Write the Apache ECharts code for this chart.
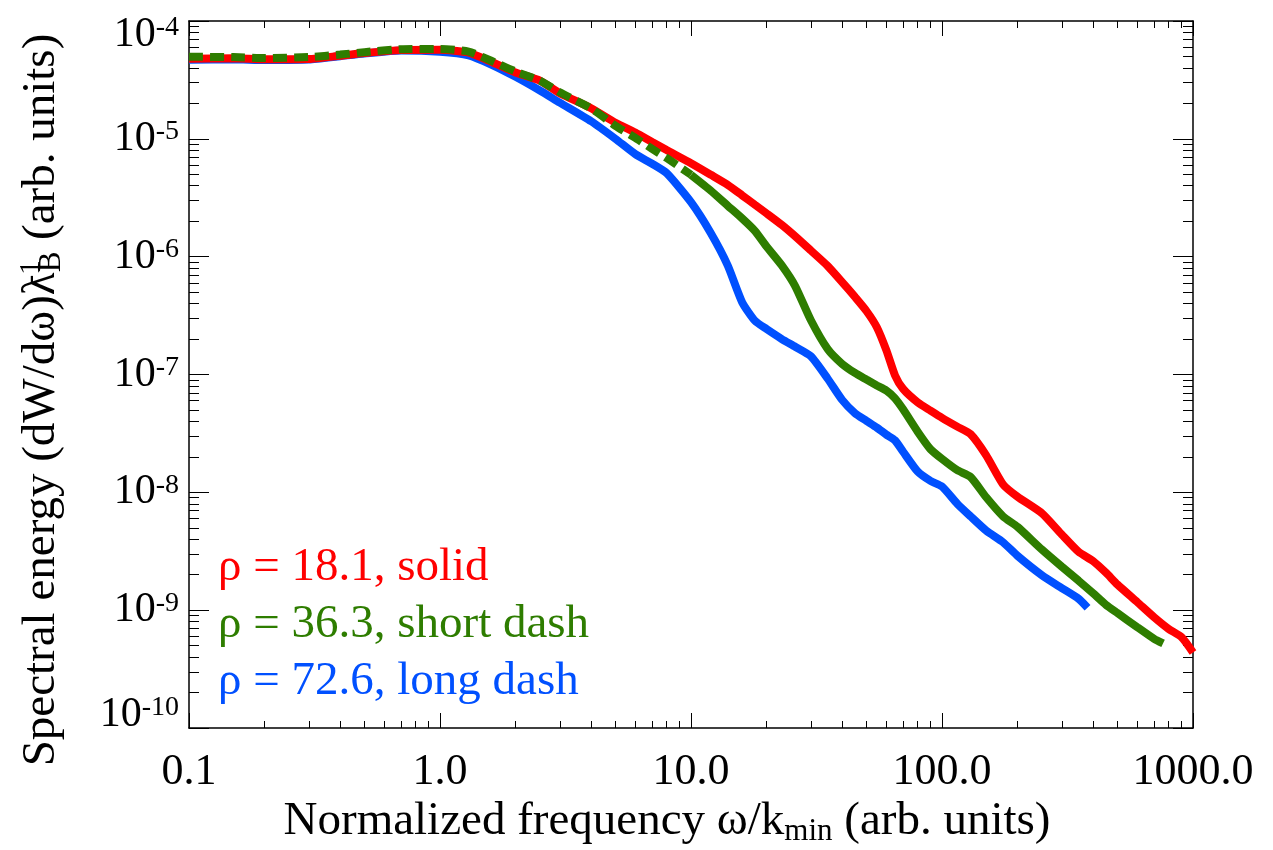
<!DOCTYPE html>
<html>
<head>
<meta charset="utf-8">
<script src="https://cdn.jsdelivr.net/npm/echarts@6/dist/echarts.min.js"></script>
<style>
html,body{margin:0;padding:0;background:#fff;}
#chart{width:1273px;height:850px;}
</style>
</head>
<body>
<div id="chart"></div>
<script>
// ---------------- data ----------------
const freqRed = [0.1,0.15,0.2,0.3,0.4,0.5,0.7,1,1.3,1.6,2,2.5,3,4,5,6,7,8,10,12,14,16,18,20,23,26,30,35,40,45,50,55,60,65,70,80,90,100,115,130,150,175,200,250,300,350,400,450,500,600,700,800,900,1000];
const energyRed = [4.78e-5,4.83e-5,4.73e-5,4.75e-5,5.07e-5,5.34e-5,5.66e-5,5.69e-5,5.39e-5,4.51e-5,3.66e-5,3.12e-5,2.44e-5,1.82e-5,1.37e-5,1.13e-5,9.40e-6,8.03e-6,6.21e-6,4.95e-6,4.07e-6,3.31e-6,2.75e-6,2.33e-6,1.86e-6,1.49e-6,1.13e-6,8.36e-7,6.09e-7,4.55e-7,3.46e-7,2.52e-7,1.61e-7,9.81e-8,7.54e-8,5.80e-8,4.94e-8,4.29e-8,3.61e-8,3.12e-8,2.06e-8,1.17e-8,9.18e-9,6.65e-9,4.39e-9,3.13e-9,2.61e-9,2.08e-9,1.65e-9,1.17e-9,8.71e-10,6.93e-10,5.90e-10,4.38e-10];

const freqGreen = [0.1,0.15,0.2,0.3,0.4,0.5,0.7,1,1.3,1.6,2,2.5,3,4,5,6,7,8,10,12,14,16,18,20,23,26,30,35,40,45,50,55,60,65,70,80,90,100,115,130,150,175,200,250,300,350,400,450,500,600,700,760];
const energyGreen = [4.97e-5,4.94e-5,4.85e-5,4.94e-5,5.19e-5,5.44e-5,5.77e-5,5.80e-5,5.50e-5,4.60e-5,3.73e-5,3.12e-5,2.48e-5,1.81e-5,1.29e-5,1.02e-5,8.22e-6,6.87e-6,4.95e-6,3.63e-6,2.71e-6,2.11e-6,1.65e-6,1.22e-6,8.43e-7,5.63e-7,2.90e-7,1.65e-7,1.23e-7,1.03e-7,9.06e-8,8.08e-8,7.31e-8,6.27e-8,5.06e-8,3.27e-8,2.32e-8,1.92e-8,1.54e-8,1.35e-8,9.07e-9,6.26e-9,5.09e-9,3.27e-9,2.34e-9,1.78e-9,1.39e-9,1.11e-9,9.45e-10,7.17e-10,5.71e-10,5.22e-10];

const freqBlue = [0.1,0.15,0.2,0.3,0.4,0.5,0.7,1,1.3,1.6,2,2.5,3,4,5,6,7,8,10,12,14,16,18,20,23,26,30,35,40,45,50,55,60,65,70,80,90,100,115,130,150,175,200,250,300,350,380];
const energyBlue = [4.69e-5,4.73e-5,4.67e-5,4.71e-5,5.03e-5,5.30e-5,5.62e-5,5.48e-5,5.11e-5,4.27e-5,3.36e-5,2.57e-5,2.03e-5,1.41e-5,1.00e-5,7.41e-6,6.14e-6,5.11e-6,2.90e-6,1.58e-6,8.44e-7,4.09e-7,2.85e-7,2.43e-7,2.00e-7,1.72e-7,1.43e-7,9.25e-8,6.09e-8,4.69e-8,4.04e-8,3.54e-8,3.09e-8,2.76e-8,2.21e-8,1.50e-8,1.25e-8,1.12e-8,8.01e-9,6.25e-9,4.73e-9,3.77e-9,2.89e-9,1.98e-9,1.54e-9,1.25e-9,1.05e-9];

const greenDashEnd = 10; // short-dash pattern visible only at low frequency

const xMajorTicks = [0.1, 1, 10, 100, 1000];
const yMajorExponents = [-10, -9, -8, -7, -6, -5, -4];
const legendLabels = ['ρ = 18.1, solid', 'ρ = 36.3, short dash', 'ρ = 72.6, long dash'];
const colors = ['#FF0000', '#2E7D00', '#0050FF'];

// ---------------- helpers ----------------
const FONT = '"Liberation Serif", "Times New Roman", serif';
const pairs = (xs, ys) => xs.map((x, i) => [x, ys[i]]);
const yMajorTicks = yMajorExponents.map(e => Math.pow(10, e));
function minorTicks(exps) {
  const out = [];
  exps.forEach(e => { for (let k = 2; k <= 9; k++) out.push(k * Math.pow(10, e)); });
  return out;
}
const xMinorTicks = minorTicks([-1, 0, 1, 2]);
const yMinorTicks = minorTicks([-10, -9, -8, -7, -6, -5]);

const greenAll = pairs(freqGreen, energyGreen);
const greenDash = greenAll.filter(p => p[0] <= greenDashEnd);
const greenSolid = greenAll.filter(p => p[0] >= greenDashEnd);

const axisBlack = { show: true, lineStyle: { color: '#000', width: 1.5 } };

function xAxisDef(pos, ticks, len, showLine, showLabel) {
  return {
    type: 'log', logBase: 10, min: 0.1, max: 1000, position: pos,
    axisLine: showLine ? axisBlack : { show: false },
    axisTick: { show: true, inside: true, length: len, customValues: ticks, lineStyle: { color: '#000', width: 1 } },
    axisLabel: showLabel ? {
      show: true, customValues: xMajorTicks, margin: 22, fontSize: 44, fontFamily: FONT, color: '#000',
      formatter: v => Number(v).toFixed(1)
    } : { show: false },
    splitLine: { show: false }
  };
}
function yAxisDef(pos, ticks, len, showLine, showLabel) {
  const base = { fontFamily: FONT, color: '#000', verticalAlign: 'top' };
  const rich = {
    b: Object.assign({ fontSize: 42, lineHeight: 42 }, base),
    s: Object.assign({ fontSize: 28, lineHeight: 28 }, base),
    bt: Object.assign({ fontSize: 42, lineHeight: 42, padding: [14, 0, 0, 0] }, base),
    st: Object.assign({ fontSize: 28, lineHeight: 28, padding: [14, 0, 0, 0] }, base),
    bb: Object.assign({ fontSize: 42, lineHeight: 42, padding: [-13, 0, 0, 0] }, base),
    sb: Object.assign({ fontSize: 28, lineHeight: 28, padding: [-13, 0, 0, 0] }, base)
  };
  return {
    type: 'log', logBase: 10, min: 1e-10, max: 1e-4, position: pos,
    axisLine: showLine ? axisBlack : { show: false },
    axisTick: { show: true, inside: true, length: len, customValues: ticks, lineStyle: { color: '#000', width: 1 } },
    axisLabel: showLabel ? {
      show: true, customValues: yMajorTicks, margin: 10, rich: rich,
      formatter: v => {
        const e = Math.round(Math.log10(v));
        if (e === -4) return '{bt|10}{st|' + e + '}';
        if (e === -10) return '{bb|10}{sb|' + e + '}';
        return '{b|10}{s|' + e + '}';
      }
    } : { show: false },
    splitLine: { show: false }
  };
}

const chart = echarts.init(document.getElementById('chart'), null, { renderer: 'canvas' });

const LEG = 47;
const option = {
  backgroundColor: '#fff',
  animation: false,
  grid: { left: 189, right: 80, top: 17, bottom: 122, containLabel: false },
  xAxis: [
    xAxisDef('bottom', xMajorTicks, 15, true, true),
    xAxisDef('bottom', xMinorTicks, 7, false, false),
    xAxisDef('top', xMajorTicks, 15, true, false),
    xAxisDef('top', xMinorTicks, 7, false, false)
  ],
  yAxis: [
    yAxisDef('left', yMajorTicks, 20, true, true),
    yAxisDef('left', yMinorTicks, 10, false, false),
    yAxisDef('right', yMajorTicks, 20, true, false),
    yAxisDef('right', yMinorTicks, 10, false, false)
  ],
  series: [
    { name: 'blue', type: 'line', xAxisIndex: 0, yAxisIndex: 0, data: pairs(freqBlue, energyBlue),
      showSymbol: false, smooth: 0.2, lineStyle: { color: colors[2], width: 8 }, z: 2 },
    { name: 'red', type: 'line', xAxisIndex: 0, yAxisIndex: 0, data: pairs(freqRed, energyRed),
      showSymbol: false, smooth: 0.2, lineStyle: { color: colors[0], width: 8 }, z: 3 },
    { name: 'greenDash', type: 'line', xAxisIndex: 0, yAxisIndex: 0, data: greenDash,
      showSymbol: false, smooth: 0.2, lineStyle: { color: colors[1], width: 8, type: [14, 7] }, z: 4 },
    { name: 'greenSolid', type: 'line', xAxisIndex: 0, yAxisIndex: 0, data: greenSolid,
      showSymbol: false, smooth: 0.2, lineStyle: { color: colors[1], width: 8 }, z: 4 }
  ],
  graphic: [
    { type: 'text', x: 218, y: 568, z: 10, style: { text: legendLabels[0], fill: colors[0], fontSize: LEG, fontFamily: FONT, verticalAlign: 'middle' } },
    { type: 'text', x: 218, y: 625, z: 10, style: { text: legendLabels[1], fill: colors[1], fontSize: LEG, fontFamily: FONT, verticalAlign: 'middle' } },
    { type: 'text', x: 218, y: 682, z: 10, style: { text: legendLabels[2], fill: colors[2], fontSize: LEG, fontFamily: FONT, verticalAlign: 'middle' } },
    { type: 'text', x: 667, y: 822, style: {
        text: 'Normalized frequency ω/k{sub|min} (arb. units)',
        fontSize: 47, fontFamily: FONT, fill: '#000', align: 'center', verticalAlign: 'middle', lineHeight: 50,
        rich: { sub: { fontSize: 31, lineHeight: 30, fontFamily: FONT, fill: '#000', verticalAlign: 'bottom' } }
      } },
    { type: 'text', x: 42, y: 400, rotation: Math.PI / 2, style: {
        text: 'Spectral energy (dW/dω)λ{sup|-1}{sub|B} (arb. units)',
        fontSize: 47, fontFamily: FONT, fill: '#000', align: 'center', verticalAlign: 'middle', lineHeight: 50,
        rich: {
          sup: { fontSize: 29, lineHeight: 28, fontFamily: FONT, fill: '#000', verticalAlign: 'top', width: 0.01 },
          sub: { fontSize: 31, lineHeight: 30, fontFamily: FONT, fill: '#000', verticalAlign: 'bottom' }
        }
      } }
  ]
};
chart.setOption(option);
</script>
</body>
</html>
